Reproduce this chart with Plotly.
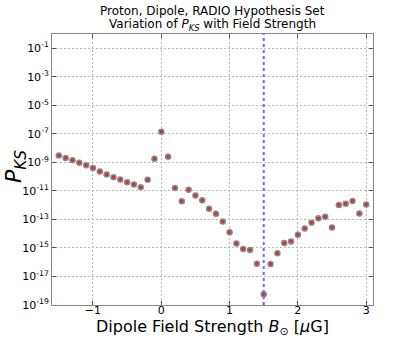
import plotly.graph_objects as go

field_strength = [-1.5, -1.4, -1.3, -1.2, -1.1, -1.0, -0.9, -0.8, -0.7, -0.6,
                  -0.5, -0.4, -0.3, -0.2, -0.1, 0.0, 0.1, 0.2, 0.3, 0.4,
                  0.5, 0.6, 0.7, 0.8, 0.9, 1.0, 1.1, 1.2, 1.3, 1.4,
                  1.5, 1.6, 1.7, 1.8, 1.9, 2.0, 2.1, 2.2, 2.3, 2.4,
                  2.5, 2.6, 2.7, 2.8, 2.9, 3.0]
log_pks = [-8.51, -8.70, -8.86, -9.03, -9.21, -9.40, -9.64, -9.85, -10.04, -10.20,
           -10.39, -10.55, -10.74, -10.22, -8.74, -6.86, -8.60, -10.79, -11.72, -10.92,
           -11.33, -11.66, -12.25, -12.60, -13.14, -13.90, -14.69, -15.07, -15.14, -16.10,
           -18.25, -16.13, -15.38, -14.65, -14.55, -14.08, -13.64, -13.24, -12.91, -12.81,
           -13.56, -11.99, -11.90, -11.71, -12.58, -11.95]
pks = [10 ** v for v in log_pks]

best_fit = 1.5
y_tick_exps = [-19, -17, -15, -13, -11, -9, -7, -5, -3, -1]
y_tick_vals = [10 ** e for e in y_tick_exps]
y_tick_text = ["10<sup>%d</sup>" % e for e in y_tick_exps]
x_tick_vals = [-1, 0, 1, 2, 3]

fig = go.Figure()
fig.add_trace(go.Scatter(
    x=field_strength, y=pks, mode="markers",
    marker=dict(size=5, color="#d03030", line=dict(color="#8a8a8a", width=1.5)),
    showlegend=False,
))
fig.add_shape(type="line", x0=best_fit, x1=best_fit, y0=0, y1=1,
              xref="x", yref="paper",
              line=dict(color="#6a6aff", width=2, dash="dot"))

font = "DejaVu Sans, sans-serif"
# plot area: top 34px, bottom 305px (height 271), left 52, right 373 (width 321)
fig.add_annotation(text="Proton, Dipole, RADIO Hypothesis Set",
                   xref="paper", yref="paper", x=0.5, y=(305 - 11) / 271,
                   xanchor="center", yanchor="middle", showarrow=False,
                   font=dict(size=12, family=font))
fig.add_annotation(text="Variation of <i>P</i><sub><i>KS</i></sub> with Field Strength",
                   xref="paper", yref="paper", x=0.5, y=(305 - 25) / 271,
                   xanchor="center", yanchor="middle", showarrow=False,
                   font=dict(size=12, family=font))
fig.add_annotation(text="Dipole Field Strength <i>B</i><sub>⊙</sub> [<i>μ</i>G]",
                   xref="paper", yref="paper", x=0.5, y=(305 - 327) / 271,
                   xanchor="center", yanchor="middle", showarrow=False,
                   font=dict(size=16, family=font))
fig.add_annotation(text="<i>P</i><sub><i>KS</i></sub>",
                   xref="paper", yref="paper", x=(15 - 52) / 321, y=(305 - 167) / 271,
                   xanchor="center", yanchor="middle", showarrow=False, textangle=-90,
                   font=dict(size=22, family=font))

fig.update_layout(
    width=415, height=340,
    margin=dict(l=52, r=42, t=34, b=35, autoexpand=False),
    paper_bgcolor="white", plot_bgcolor="white",
    font=dict(family=font, color="black", size=11),
    xaxis=dict(
        range=[-1.6, 3.1], tickvals=x_tick_vals,
        showgrid=True, gridcolor="#b8b8b8", griddash="2px,2px", gridwidth=1,
        showline=True, linecolor="#888888", linewidth=1, mirror="ticks",
        ticks="inside", ticklen=4, tickcolor="#555555",
        tickfont=dict(size=11), zeroline=False, automargin=False,
        ticklabelstandoff=-5,
    ),
    yaxis=dict(
        type="log", range=[-19, 0],
        tickvals=y_tick_vals, ticktext=y_tick_text,
        showgrid=True, gridcolor="#b8b8b8", griddash="2px,2px", gridwidth=1,
        showline=True, linecolor="#888888", linewidth=1, mirror="ticks",
        ticks="inside", ticklen=4, tickcolor="#555555",
        tickfont=dict(size=11), zeroline=False, automargin=False,
    ),
)

fig.write_html("out.html", config={"displayModeBar": False},
               post_script="document.body.style.margin='0';document.body.style.padding='0';")
